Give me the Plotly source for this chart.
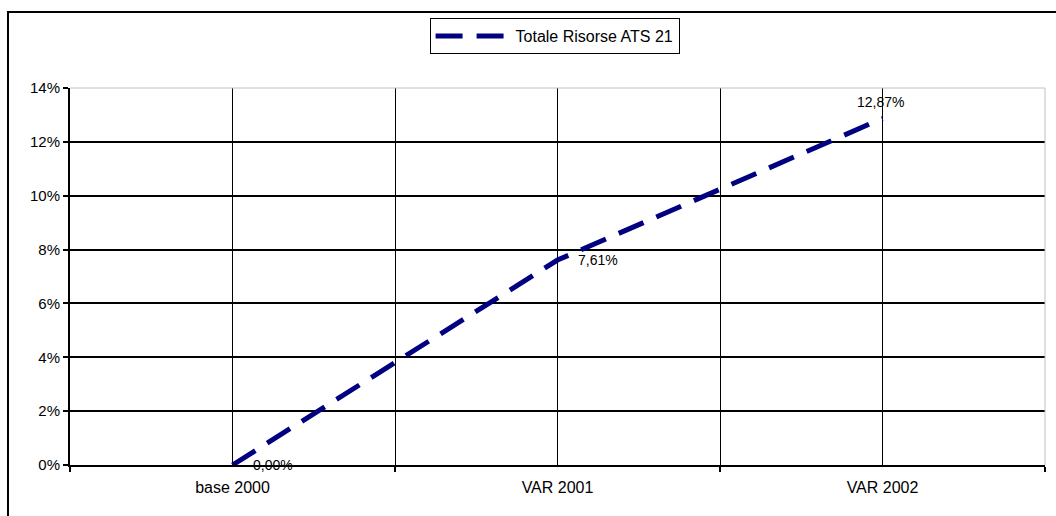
import plotly.graph_objects as go

# data
categories = ["base 2000", "VAR 2001", "VAR 2002"]
values = [0.00, 7.61, 12.87]
series_name = "Totale Risorse ATS 21"
y_ticks = [0, 2, 4, 6, 8, 10, 12, 14]

FONT = "Liberation Sans, Arial, sans-serif"
NAVY = "#000080"

x_idx = list(range(len(categories)))
labels = [f"{v:.2f}%".replace(".", ",") for v in values]

fig = go.Figure()

fig.add_trace(go.Scatter(
    x=x_idx,
    y=values,
    mode='lines',
    line=dict(color=NAVY, width=5, dash="27px,14px"),
    name=series_name,
    showlegend=True
))

# data labels (Excel style placement)
positions = [("left", "middle", 18, 0), ("left", "middle", 18, 0), ("center", "bottom", -2, 6)]
for xi, v, lab, (xa, ya, xs, ys) in zip(x_idx, values, labels, positions):
    fig.add_annotation(
        x=xi, y=v, text=lab, showarrow=False,
        xanchor=xa, yanchor=ya, xshift=xs, yshift=ys,
        font=dict(family=FONT, size=14, color="black")
    )

# grey plot-area border on top and right
fig.add_shape(type="line", xref="paper", yref="paper", x0=0, x1=1, y0=1, y1=1,
              line=dict(color="#c0c0c0", width=1), layer="above")
fig.add_shape(type="line", xref="paper", yref="paper", x0=1, x1=1, y0=0, y1=1,
              line=dict(color="#c0c0c0", width=1), layer="above")

# outer chart frame (cut off at right and bottom)
fig.add_shape(type="rect", xref="paper", yref="paper",
              x0=-0.0636, x1=1.2, y0=-0.3, y1=1.2016,
              line=dict(color="black", width=2), fillcolor="rgba(0,0,0,0)")

bounds = [i - 0.5 for i in range(len(categories) + 1)]

fig.update_layout(
    width=1056,
    height=516,
    paper_bgcolor="white",
    plot_bgcolor="white",
    margin=dict(l=70, r=11, t=88, b=51),
    font=dict(family=FONT, size=16, color="black"),
    showlegend=True,
    legend=dict(
        x=0.497, xanchor="center", y=1.1857, yanchor="top",
        bordercolor="black", borderwidth=1, bgcolor="white",
        font=dict(family=FONT, size=16),
        itemwidth=75,
    ),
    xaxis=dict(
        range=[-0.5, len(categories) - 0.5],
        tickvals=x_idx,
        ticktext=categories,
        ticks="",
        ticklabelstandoff=7,
        showgrid=True, gridcolor="black", gridwidth=1,
        showline=True, linecolor="black", linewidth=2,
        zeroline=False,
        tickfont=dict(family=FONT, size=16),
        minor=dict(tickvals=bounds, ticks="outside", ticklen=5, tickcolor="black",
                   tickwidth=2, showgrid=True, gridcolor="black", gridwidth=1),
    ),
    yaxis=dict(
        range=[0, 14],
        tickvals=y_ticks,
        ticktext=[f"{t}%" for t in y_ticks],
        ticks="outside", ticklen=5, tickcolor="black", tickwidth=2,
        showgrid=True, gridcolor="black", gridwidth=1.5,
        showline=True, linecolor="black", linewidth=2,
        zeroline=False,
        tickfont=dict(family=FONT, size=15),
    ),
)

# page has a default 8px body margin; drop it so the chart sits at 0,0
fig.write_html("out.html", config={"displayModeBar": False},
               post_script="document.body.style.margin='0';")
